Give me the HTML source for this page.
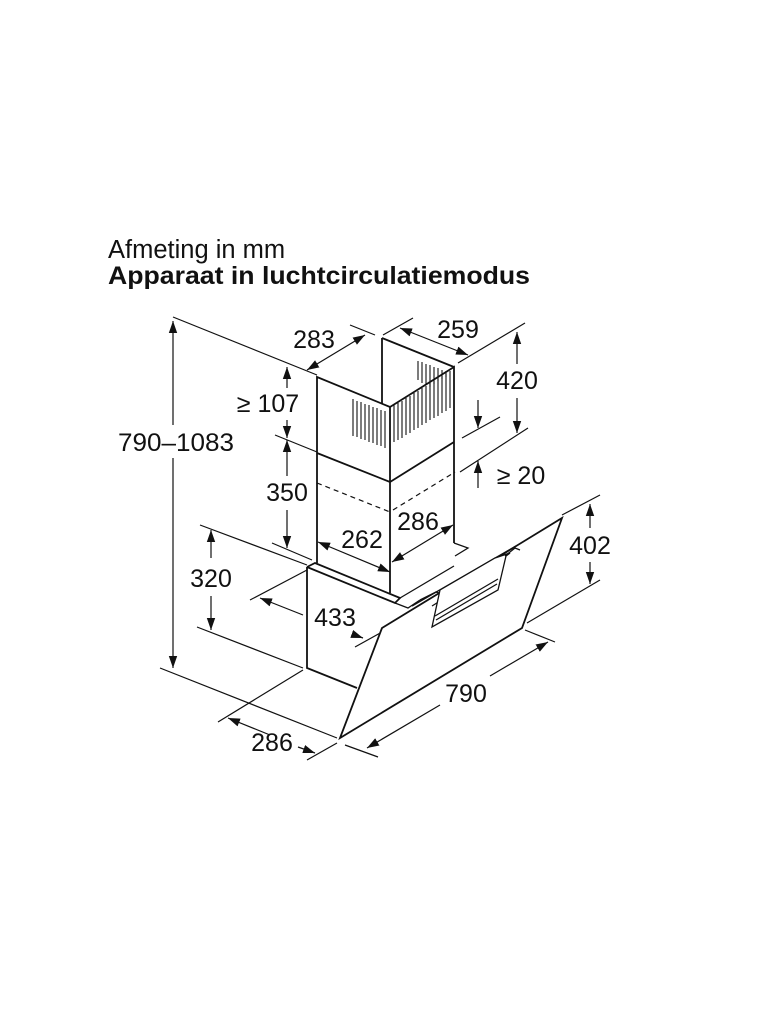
<!DOCTYPE html>
<html><head><meta charset="utf-8"><style>
html,body{margin:0;padding:0;background:#fff}
svg{display:block}
text{font-family:"Liberation Sans",Arial,sans-serif;fill:#111}
</style></head><body>
<svg width="768" height="1024" viewBox="0 0 768 1024" xmlns="http://www.w3.org/2000/svg">
<defs>
<marker id="a" viewBox="0 0 10 10" refX="10" refY="5" markerWidth="12" markerHeight="12" markerUnits="userSpaceOnUse" orient="auto-start-reverse"><path d="M0,1.5 L10,5 L0,8.5 z" fill="#111"/></marker>
</defs>
<text x="108" y="258" font-size="25.5">Afmeting in mm</text>
<text x="108" y="284" font-size="25" font-weight="bold" textLength="422" lengthAdjust="spacingAndGlyphs">Apparaat in luchtcirculatiemodus</text>

<g stroke="#111" fill="none" stroke-width="1.2">
<line x1="173" y1="317" x2="317" y2="375"/>
<line x1="160" y1="668" x2="337" y2="738"/>
<line x1="350" y1="325" x2="375" y2="335"/>
<line x1="383" y1="335" x2="413" y2="318"/>
<line x1="458" y1="363" x2="525" y2="323"/>
<line x1="462" y1="438" x2="500" y2="417"/>
<line x1="460" y1="472" x2="528" y2="428"/>
<line x1="275" y1="435" x2="317" y2="452"/>
<line x1="272" y1="543" x2="312" y2="560"/>
<line x1="200" y1="525" x2="307" y2="565"/>
<line x1="197" y1="627" x2="303" y2="668"/>
<line x1="250" y1="600" x2="307" y2="570"/>
<line x1="355" y1="647" x2="382" y2="632"/>
<line x1="562" y1="515" x2="600" y2="495"/>
<line x1="527" y1="623" x2="600" y2="580"/>
<line x1="345" y1="745" x2="378" y2="757"/>
<line x1="525" y1="630" x2="555" y2="642"/>
<line x1="218" y1="722" x2="303" y2="670"/>
<line x1="307" y1="760" x2="337" y2="743"/>

<line x1="173" y1="425" x2="173" y2="321" marker-end="url(#a)"/>
<line x1="173" y1="458" x2="173" y2="668" marker-end="url(#a)"/>
<line x1="307" y1="370" x2="365" y2="335" marker-start="url(#a)" marker-end="url(#a)"/>
<line x1="400" y1="328" x2="468" y2="355" marker-start="url(#a)" marker-end="url(#a)"/>
<line x1="517" y1="364" x2="517" y2="332" marker-end="url(#a)"/>
<line x1="517" y1="398" x2="517" y2="433" marker-end="url(#a)"/>
<line x1="478" y1="400" x2="478" y2="428" marker-end="url(#a)"/>
<line x1="478" y1="488" x2="478" y2="461" marker-end="url(#a)"/>
<line x1="287" y1="388" x2="287" y2="367" marker-end="url(#a)"/>
<line x1="287" y1="420" x2="287" y2="438" marker-end="url(#a)"/>
<line x1="287" y1="476" x2="287" y2="440" marker-end="url(#a)"/>
<line x1="287" y1="510" x2="287" y2="548" marker-end="url(#a)"/>
<line x1="318" y1="542" x2="390" y2="572" marker-start="url(#a)" marker-end="url(#a)"/>
<line x1="392" y1="562" x2="453" y2="525" marker-start="url(#a)" marker-end="url(#a)"/>
<line x1="211" y1="558" x2="211" y2="530" marker-end="url(#a)"/>
<line x1="211" y1="596" x2="211" y2="630" marker-end="url(#a)"/>
<line x1="303" y1="615" x2="260" y2="598" marker-end="url(#a)"/>
<line x1="352" y1="634" x2="363" y2="638" marker-end="url(#a)"/>
<line x1="590" y1="528" x2="590" y2="504" marker-end="url(#a)"/>
<line x1="590" y1="562" x2="590" y2="584" marker-end="url(#a)"/>
<line x1="367" y1="748" x2="440" y2="705" marker-start="url(#a)"/>
<line x1="490" y1="676" x2="548" y2="642" marker-end="url(#a)"/>
<line x1="270" y1="735" x2="228" y2="718" marker-end="url(#a)"/>
<line x1="298" y1="747" x2="315" y2="753" marker-end="url(#a)"/>

<g stroke-width="1.8">
<polyline points="317,453 317,377 390,407 454,367 454,442"/>
<line x1="382" y1="338" x2="382" y2="404"/>
<line x1="382" y1="338" x2="454" y2="367"/>
<line x1="390" y1="407" x2="390" y2="593"/>
<polyline points="317,453 390,482 454,442"/>
<line x1="317" y1="453" x2="317" y2="563"/>
<line x1="454" y1="442" x2="454" y2="543"/>
</g>
<g stroke-dasharray="5,4">
<line x1="317" y1="483" x2="390" y2="512"/>
<line x1="393" y1="510" x2="455" y2="472"/>
</g>
<g stroke-width="1.1">
<path d="M353,399V436 M357,401V437 M361,402V439 M365,404V440 M369,405V442 M373,407V443 M377,408V445 M381,410V446 M385,411V448"/>
<path d="M394,405V442 M398,403V440 M402,401V438 M406,398V435 M410,396V433 M414,393V430 M418,391V428 M422,388V425 M426,386V423 M430,383V420 M434,381V418 M438,379V416 M442,376V413 M446,374V411 M450,371V408"/>
<path d="M418,361V380 M422,362V383 M426,364V385 M430,365V387 M434,367V384 M438,368V381 M442,370V379 M446,371V377"/>
</g>
<g stroke-width="1.8">
<polyline points="307,567 307,668 357,688"/>
<polyline points="307,567 315,563 400,598 395,603 307,567"/>
<polygon points="382,628 562,518 522,628 340,738" fill="#fff"/>
</g>
<g stroke-width="1.3">
<polyline points="395,603 408,608 420,600"/>
<polyline points="454,543 468,548 455,556"/>
<line x1="412" y1="606" x2="516" y2="546"/>
<line x1="400" y1="598" x2="454" y2="566"/>
<path d="M420,600 L436,592 L448,596 L432,606"/>
<path d="M440,590 L495,558 L510,553 L506,556 L498,590 L432,627 Z" fill="#fff"/>
<line x1="436" y1="620" x2="497" y2="584"/>
<line x1="435" y1="616" x2="498" y2="579"/>
<path d="M505,556 L515,548 L520,550"/>
</g>
</g>

<g font-size="25" text-anchor="middle">
<text x="176" y="451" textLength="116" lengthAdjust="spacingAndGlyphs">790–1083</text>
<text x="314" y="348">283</text>
<text x="458" y="338">259</text>
<text x="517" y="389">420</text>
<text x="268" y="412">≥ 107</text>
<text x="521" y="484">≥ 20</text>
<text x="287" y="501">350</text>
<text x="362" y="548">262</text>
<text x="418" y="530">286</text>
<text x="211" y="587">320</text>
<text x="335" y="626">433</text>
<text x="590" y="554">402</text>
<text x="466" y="702">790</text>
<text x="272" y="751">286</text>
</g>
</svg>
</body></html>
